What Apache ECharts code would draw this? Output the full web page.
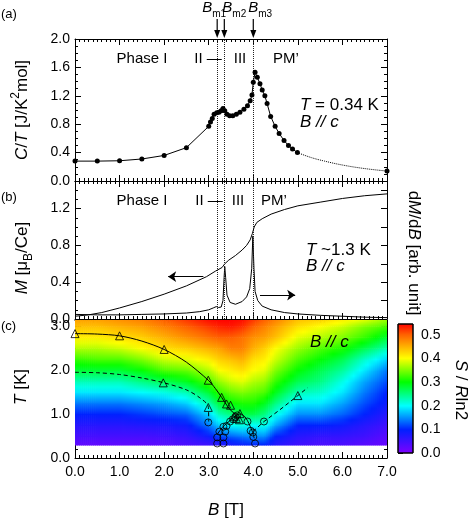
<!DOCTYPE html>
<html>
<head>
<meta charset="utf-8">
<title>B // c</title>
<script src="https://cdn.jsdelivr.net/npm/echarts@6/dist/echarts.min.js"></script>
<style>
html, body { margin: 0; padding: 0; background: #fff; }
#chart { width: 471px; height: 523px; }
</style>
</head>
<body>
<div id="chart"></div>
<script>
// (a) C/T at T = 0.34 K  [B (T), C/T (J/K^2 mol)]
var ctData = [[0.0,0.28],[0.5,0.28],[1.0,0.285],[1.5,0.31],[2.0,0.36],[2.5,0.47],[3.0,0.77],[3.04,0.83],
  [3.08,0.88],[3.12,0.94],[3.18,0.96],[3.23,0.97],[3.28,0.99],[3.32,1.02],[3.36,0.99],[3.41,0.94],
  [3.47,0.92],[3.54,0.92],[3.62,0.94],[3.7,0.97],[3.79,1.01],[3.87,1.06],[3.93,1.13],[3.97,1.21],
  [4.0,1.39],[4.04,1.53],[4.09,1.46],[4.15,1.37],[4.2,1.28],[4.26,1.2],[4.31,1.09],[4.39,0.91],
  [4.49,0.77],[4.58,0.67],[4.69,0.57],[4.79,0.5],[4.88,0.45],[4.99,0.40]];
var ctTail = [[4.99,0.40],[5.3,0.33],[5.6,0.28],[6.0,0.225],[6.5,0.175],[7.0,0.14]];

// (b) magnetization (left axis) and dM/dB (right axis, arb.)
var mData = [[0,0.03],[0.3,0.045],[0.6,0.07],[1.0,0.12],[1.5,0.19],[2.0,0.27],[2.5,0.36],[2.95,0.46],
  [3.15,0.52],[3.3,0.56],[3.36,0.6],[3.45,0.64],[3.6,0.69],[3.75,0.75],[3.85,0.8],[3.93,0.86],
  [3.98,0.93],[4.02,1.0],[4.08,1.05],[4.2,1.09],[4.4,1.14],[4.7,1.19],[5.0,1.23],[5.5,1.27],
  [6.0,1.31],[6.5,1.34],[7.0,1.36]];
var dmdbData = [[0,0.05],[0.5,0.045],[1.0,0.045],[1.5,0.05],[2.0,0.055],[2.5,0.065],[2.8,0.08],
  [3.0,0.1],[3.1,0.12],[3.17,0.135],[3.22,0.125],[3.28,0.13],[3.32,0.2],[3.345,0.45],[3.36,0.57],
  [3.38,0.45],[3.41,0.26],[3.48,0.18],[3.6,0.16],[3.75,0.19],[3.85,0.24],[3.92,0.33],[3.965,0.55],
  [3.99,0.9],[4.015,0.55],[4.04,0.3],[4.1,0.2],[4.2,0.14],[4.4,0.1],[4.7,0.07],[5.0,0.055],
  [5.5,0.04],[6.0,0.03],[6.5,0.02],[7.0,0.015]];

// transition fields Bm1, Bm2, Bm3
var bmFields = [3.19, 3.35, 4.0];
var bmNames = ['m1', 'm2', 'm3'];

// (c) phase boundaries [B, T]
var upperLine = [[0,2.83],[0.5,2.82],[1,2.78],[1.5,2.66],[2,2.47],[2.5,2.18],[2.99,1.77],[3.15,1.58],
  [3.29,1.38],[3.42,1.18],[3.53,1.05],[3.62,0.99]];
var domeLine = [[3.2,0.55],[3.27,0.65],[3.35,0.74],[3.45,0.83],[3.55,0.92],[3.65,0.99],[3.72,1.0],
  [3.8,0.95],[3.87,0.85],[3.93,0.72],[3.98,0.6],[4.02,0.45]];
var lowerDash = [[0,1.95],[0.5,1.94],[1,1.9],[1.5,1.82],[2,1.71],[2.5,1.55],[2.8,1.37],[2.99,1.17],[3.0,0.83]];
var rightDash = [[3.99,0.6],[4.24,0.83],[4.6,1.1],[5.0,1.42],[5.22,1.6]];
var triPoints = [[0,2.83],[1,2.78],[2,2.47],[2.99,1.77],[3.29,1.38],[3.4,1.23],[3.49,1.2],
  [1.98,1.71],[2.99,1.15],[5.0,1.42],[3.57,0.94],[3.7,1.01],[3.69,0.87],[3.62,0.9]];
var circPoints = [[2.99,0.81],[3.19,0.33],[3.33,0.33],[3.19,0.47],[3.33,0.47],[3.24,0.6],[3.37,0.6],
  [3.33,0.71],[3.4,0.73],[3.48,0.83],[3.54,0.88],[3.6,0.94],[3.64,0.97],[3.87,0.83],[3.94,0.62],
  [3.99,0.58],[4.0,0.48],[4.04,0.33],[4.24,0.83]];

// entropy map S/Rln2: one column per field node, values from T = 0.3 K upward
var mapB = [0, 0.5, 1, 1.5, 2, 2.5, 3, 3.25, 3.5, 3.75, 4, 4.25, 4.5, 5, 5.5, 6, 6.5, 7];
var mapT = [0.3, 0.5, 0.75, 1.0, 1.25, 1.5, 1.75, 2.0, 2.25, 2.5, 2.75, 3.0, 3.15];
var mapS = [
  [.025,.045,.07,.10,.14,.19,.23,.28,.32,.37,.41,.44,.46],
  [.025,.045,.07,.10,.14,.19,.23,.28,.33,.37,.41,.44,.46],
  [.025,.045,.07,.10,.14,.19,.23,.28,.33,.38,.42,.45,.47],
  [.025,.045,.075,.11,.15,.20,.25,.30,.35,.40,.43,.46,.48],
  [.03,.05,.08,.12,.16,.21,.27,.33,.38,.42,.45,.48,.50],
  [.04,.06,.09,.13,.18,.23,.29,.34,.39,.43,.47,.50,.52],
  [.05,.09,.14,.18,.23,.28,.33,.37,.41,.45,.49,.52,.54],
  [.07,.12,.18,.23,.28,.32,.36,.40,.43,.46,.50,.53,.545],
  [.08,.13,.20,.25,.30,.34,.38,.41,.44,.48,.50,.535,.545],
  [.09,.14,.21,.27,.31,.35,.39,.42,.45,.48,.49,.525,.54],
  [.10,.15,.20,.27,.31,.34,.37,.40,.42,.45,.47,.50,.52],
  [.10,.15,.21,.25,.29,.33,.36,.39,.41,.43,.46,.48,.50],
  [.07,.10,.16,.21,.25,.29,.32,.35,.38,.40,.44,.46,.48],
  [.05,.07,.10,.15,.19,.23,.27,.30,.33,.36,.39,.42,.44],
  [.04,.06,.10,.15,.19,.22,.25,.27,.30,.33,.37,.40,.43],
  [.04,.06,.09,.13,.16,.19,.21,.24,.27,.31,.35,.38,.41],
  [.03,.05,.07,.10,.12,.14,.16,.19,.22,.27,.32,.35,.39],
  [.02,.03,.05,.07,.09,.10,.12,.14,.18,.23,.28,.33,.36]
];
var sMax = 0.546;

// rainbow palette of the colour bar
var palette = [[0, [128,0,255]], [0.1, [0,32,255]], [0.2, [0,255,255]], [0.3, [0,255,0]],
  [0.4, [255,255,0]], [0.5, [255,96,0]], [0.546, [255,0,0]]];

function sColor(v) {
  if (v <= palette[0][0]) return 'rgb(' + palette[0][1].join(',') + ')';
  for (var k = 1; k < palette.length; k++) {
    if (v <= palette[k][0]) {
      var a = palette[k - 1], b = palette[k];
      var f = (v - a[0]) / (b[0] - a[0]);
      var c = [0, 1, 2].map(function (n) { return Math.round(a[1][n] + (b[1][n] - a[1][n]) * f); });
      return 'rgb(' + c.join(',') + ')';
    }
  }
  return 'rgb(' + palette[palette.length - 1][1].join(',') + ')';
}

var FONT = '"Liberation Sans", Arial, Helvetica, sans-serif';
var BLACK = '#000';

var cells = [];
for (var i = 0; i < mapB.length - 1; i++) {
  for (var j = 0; j < mapT.length - 1; j++) cells.push([mapB[i], mapT[j], i, j]);
}

function renderCell(params, api) {
  var i = api.value(2), j = api.value(3);
  var col0 = mapS[i], col1 = mapS[i + 1];
  var pA = api.coord([mapB[i], mapT[j + 1]]);
  var pB = api.coord([mapB[i + 1], mapT[j]]);
  var w = pB[0] - pA[0], h = pB[1] - pA[1];
  var n = Math.max(2, Math.round(w / 2));
  var kids = [];
  for (var k = 0; k < n; k++) {
    var f = (k + 0.5) / n;
    var vBot = col0[j] + (col1[j] - col0[j]) * f;
    var vTop = col0[j + 1] + (col1[j + 1] - col0[j + 1]) * f;
    kids.push({
      type: 'rect',
      shape: { x: pA[0] + w * k / n, y: pA[1], width: w / n + 0.7, height: h + 0.7 },
      style: {
        fill: { type: 'linear', x: 0, y: 0, x2: 0, y2: 1, colorStops: [
          { offset: 0, color: sColor(vTop) },
          { offset: 0.5, color: sColor((vTop + vBot) / 2) },
          { offset: 1, color: sColor(vBot) }] }
      }
    });
  }
  return { type: 'group', children: kids };
}

function renderBar(params, api) {
  var p0 = api.coord([0, sMax]);
  var p1 = api.coord([1, 0]);
  var stops = palette.map(function (p) { return { offset: 1 - p[0] / sMax, color: sColor(p[0]) }; });
  stops.reverse();
  return {
    type: 'rect',
    shape: { x: p0[0], y: p0[1], width: p1[0] - p0[0], height: p1[1] - p0[1] },
    style: { fill: { type: 'linear', x: 0, y: 0, x2: 0, y2: 1, colorStops: stops }, stroke: BLACK, lineWidth: 1 }
  };
}

function fmt1(v) { return v.toFixed(1); }

function xAxisFor(grid, pos, labels) {
  return {
    type: 'value', gridIndex: grid, position: pos, min: 0, max: 7, interval: 1,
    axisLine: { show: true, onZero: false, lineStyle: { color: BLACK, width: 1 } },
    axisTick: { show: true, inside: true, length: 6, lineStyle: { color: BLACK } },
    minorTick: { show: true, splitNumber: 10, length: 3, lineStyle: { color: BLACK } },
    axisLabel: { show: labels, formatter: fmt1, color: BLACK, fontSize: 14, fontFamily: FONT, margin: 7 },
    splitLine: { show: false }
  };
}

function yAxisFor(grid, pos, max, step, minorSplit, labels) {
  return {
    type: 'value', gridIndex: grid, position: pos, min: 0, max: max, interval: step,
    axisLine: { show: true, onZero: false, lineStyle: { color: BLACK, width: 1 } },
    axisTick: { show: true, inside: true, length: 6, lineStyle: { color: BLACK } },
    minorTick: { show: minorSplit > 0, splitNumber: minorSplit || 2, length: 3, lineStyle: { color: BLACK } },
    axisLabel: { show: labels, formatter: fmt1, color: BLACK, fontSize: 14, fontFamily: FONT, margin: 5, showMaxLabel: max % step < 1e-9 || Math.abs(max % step - step) < 1e-9 },
    splitLine: { show: false }
  };
}

var dotted = { type: 'dotted', color: '#222', width: 1 };
var bmLines = {
  silent: true, symbol: 'none', label: { show: false }, lineStyle: dotted,
  data: bmFields.map(function (b) { return { xAxis: b }; })
};

var option = {
  animation: false,
  backgroundColor: '#fff',
  textStyle: { fontFamily: FONT },
  grid: [
    { left: 75, top: 39, width: 312, height: 142 },
    { left: 75, top: 181, width: 312, height: 138 },
    { left: 75, top: 320, width: 312, height: 138 },
    { left: 398, top: 324, width: 15, height: 129 }
  ],
  xAxis: [
    xAxisFor(0, 'bottom', false), xAxisFor(0, 'top', false),
    xAxisFor(1, 'bottom', false), xAxisFor(1, 'top', false),
    xAxisFor(2, 'bottom', true), xAxisFor(2, 'top', false),
    { type: 'value', gridIndex: 3, min: 0, max: 1, show: false }
  ],
  yAxis: [
    yAxisFor(0, 'left', 2.0, 0.4, 4, true), yAxisFor(0, 'right', 2.0, 0.4, 4, false),
    yAxisFor(1, 'left', 1.5, 0.4, 4, true), yAxisFor(1, 'right', 1.5, 0.2, 0, false),
    yAxisFor(2, 'left', 3.14, 1, 5, true), yAxisFor(2, 'right', 3.14, 1, 5, false),
    {
      type: 'value', gridIndex: 3, position: 'right', min: 0, max: sMax, interval: 0.1,
      axisLine: { show: false },
      axisTick: { show: true, inside: false, length: 5, lineStyle: { color: BLACK } },
      axisLabel: { formatter: fmt1, color: BLACK, fontSize: 14, fontFamily: FONT, margin: 8, showMaxLabel: false },
      splitLine: { show: false }
    }
  ],
  series: [
    {
      name: 'C/T', type: 'line', xAxisIndex: 0, yAxisIndex: 0, data: ctData,
      symbol: 'circle', symbolSize: 5, itemStyle: { color: BLACK },
      lineStyle: { color: BLACK, width: 1 }, z: 5, markLine: bmLines
    },
    {
      name: 'C/T tail', type: 'line', xAxisIndex: 0, yAxisIndex: 0, smooth: 0.4,
      data: ctTail.map(function (p, k) {
        return { value: p, symbol: k === ctTail.length - 1 ? 'circle' : 'none' };
      }),
      symbolSize: 5, itemStyle: { color: BLACK },
      lineStyle: { color: BLACK, width: 1, type: 'dotted' }, z: 4
    },
    {
      name: 'M', type: 'line', xAxisIndex: 2, yAxisIndex: 2, data: mData,
      showSymbol: false, lineStyle: { color: BLACK, width: 1 },
      markLine: {
        silent: true, symbol: ['none', 'arrow'], symbolSize: 8,
        label: { show: false }, lineStyle: { color: BLACK, width: 1, type: 'solid' },
        data: [
          [{ coord: [2.88, 0.46] }, { coord: [2.09, 0.46] }],
          [{ coord: [4.15, 0.26] }, { coord: [4.94, 0.26] }]
        ]
      }
    },
    {
      name: 'dM/dB', type: 'line', xAxisIndex: 2, yAxisIndex: 3, data: dmdbData,
      showSymbol: false, lineStyle: { color: BLACK, width: 1 }, markLine: bmLines
    },
    {
      name: 'entropy', type: 'custom', xAxisIndex: 4, yAxisIndex: 4, data: cells,
      encode: { x: 0, y: 1 }, renderItem: renderCell, clip: true, silent: true, z: 1
    },
    {
      name: 'upper', type: 'line', xAxisIndex: 4, yAxisIndex: 4, data: upperLine, smooth: 0.3,
      showSymbol: false, lineStyle: { color: BLACK, width: 1 }, z: 3
    },
    {
      name: 'dome', type: 'line', xAxisIndex: 4, yAxisIndex: 4, data: domeLine, smooth: 0.3,
      showSymbol: false, lineStyle: { color: BLACK, width: 1 }, z: 3
    },
    {
      name: 'lower', type: 'line', xAxisIndex: 4, yAxisIndex: 4, data: lowerDash, smooth: 0.3,
      showSymbol: false, lineStyle: { color: BLACK, width: 1, type: [4, 3] }, z: 3
    },
    {
      name: 'right', type: 'line', xAxisIndex: 4, yAxisIndex: 4, data: rightDash,
      showSymbol: false, lineStyle: { color: BLACK, width: 1, type: [4, 3] }, z: 3
    },
    {
      name: 'triangles', type: 'scatter', xAxisIndex: 4, yAxisIndex: 4, data: triPoints,
      symbol: 'triangle', symbolSize: 8,
      itemStyle: { color: 'rgba(0,0,0,0)', borderColor: BLACK, borderWidth: 1 }, z: 4
    },
    {
      name: 'circles', type: 'scatter', xAxisIndex: 4, yAxisIndex: 4, data: circPoints,
      symbol: 'circle', symbolSize: 7,
      itemStyle: { color: 'rgba(0,0,0,0)', borderColor: BLACK, borderWidth: 1 }, z: 4
    },
    {
      name: 'colour bar', type: 'custom', xAxisIndex: 6, yAxisIndex: 6, data: [[0, 0]],
      renderItem: renderBar, silent: true
    }
  ]
};

var chart = echarts.init(document.getElementById('chart'));
chart.setOption(option);

// ---- text and arrows ----
function rich(size, subSize) {
  var lh = size + 8;
  var small = subSize || Math.round(size * 0.68);
  return {
    n: { fontSize: size, fontFamily: FONT, lineHeight: lh },
    i: { fontSize: size, fontFamily: FONT, fontStyle: 'italic', lineHeight: lh },
    sub: { fontSize: small, fontFamily: FONT, verticalAlign: 'bottom' },
    sup: { fontSize: small, fontFamily: FONT, verticalAlign: 'top' }
  };
}
function txt(x, y, text, size, align, rot, subSize) {
  return {
    type: 'text', x: x, y: y, rotation: rot || 0, silent: true, z: 20,
    style: {
      text: text, rich: rich(size, subSize), fill: BLACK,
      font: size + 'px ' + FONT, align: align || 'center', verticalAlign: 'middle'
    }
  };
}

var g = [];
g.push(txt(1, 14, '{n|(a)}', 13, 'left'));
g.push(txt(1, 197, '{n|(b)}', 13, 'left'));
g.push(txt(1, 326, '{n|(c)}', 13, 'left'));

g.push(txt(142, 59, '{n|Phase I}', 15));
g.push(txt(208, 59, '{n|II —}', 15));
g.push(txt(240, 59, '{n|III}', 15));
g.push(txt(286, 59, '{n|PM’}', 15));
g.push(txt(300, 105, '{i|T}{n| = 0.34 K}', 17, 'left'));
g.push(txt(300, 122, '{i|B // c}', 17, 'left'));

g.push(txt(142, 201, '{n|Phase I}', 15));
g.push(txt(209, 201, '{n|II —}', 15));
g.push(txt(238, 201, '{n|III}', 15));
g.push(txt(274, 201, '{n|PM’}', 15));
g.push(txt(306, 250, '{i|T}{n| ~1.3 K}', 17, 'left'));
g.push(txt(306, 266, '{i|B // c}', 17, 'left'));

g.push(txt(310, 342, '{i|B // c}', 17, 'left'));

g.push(txt(22, 110, '{i|C}{n|/}{i|T}{n| [J/K}{sup|2}{n|mol]}', 17, 'center', Math.PI / 2));
g.push(txt(22, 258, '{i|M}{n| [μ}{sub|B}{n|/Ce]}', 17, 'center', Math.PI / 2));
g.push(txt(21, 387, '{i|T}{n| [K]}', 17, 'center', Math.PI / 2));
g.push(txt(226, 510, '{i|B}{n| [T]}', 17, 'center'));
g.push(txt(414, 253, '{n|d}{i|M}{n|/d}{i|B}{n| [arb. unit]}', 17, 'center', -Math.PI / 2));
g.push(txt(461, 390, '{i|S}{n| / }{i|R}{n|ln2}', 17, 'center', -Math.PI / 2));

// transition arrows above panel (a)
var labelShift = [-15, -2, -5];
bmFields.forEach(function (b, k) {
  var x = chart.convertToPixel({ xAxisIndex: 0 }, b);
  g.push({ type: 'line', silent: true, shape: { x1: x, y1: 19, x2: x, y2: 31 }, style: { stroke: BLACK, lineWidth: 1.2 } });
  g.push({ type: 'polygon', silent: true, shape: { points: [[x - 3, 30], [x + 3, 30], [x, 38]] }, style: { fill: BLACK } });
  g.push(txt(x + labelShift[k], 8, '{i|B}{sub|' + bmNames[k] + '}', 15, 'left', 0, 10));
});

chart.setOption({ graphic: g });
</script>
</body>
</html>
